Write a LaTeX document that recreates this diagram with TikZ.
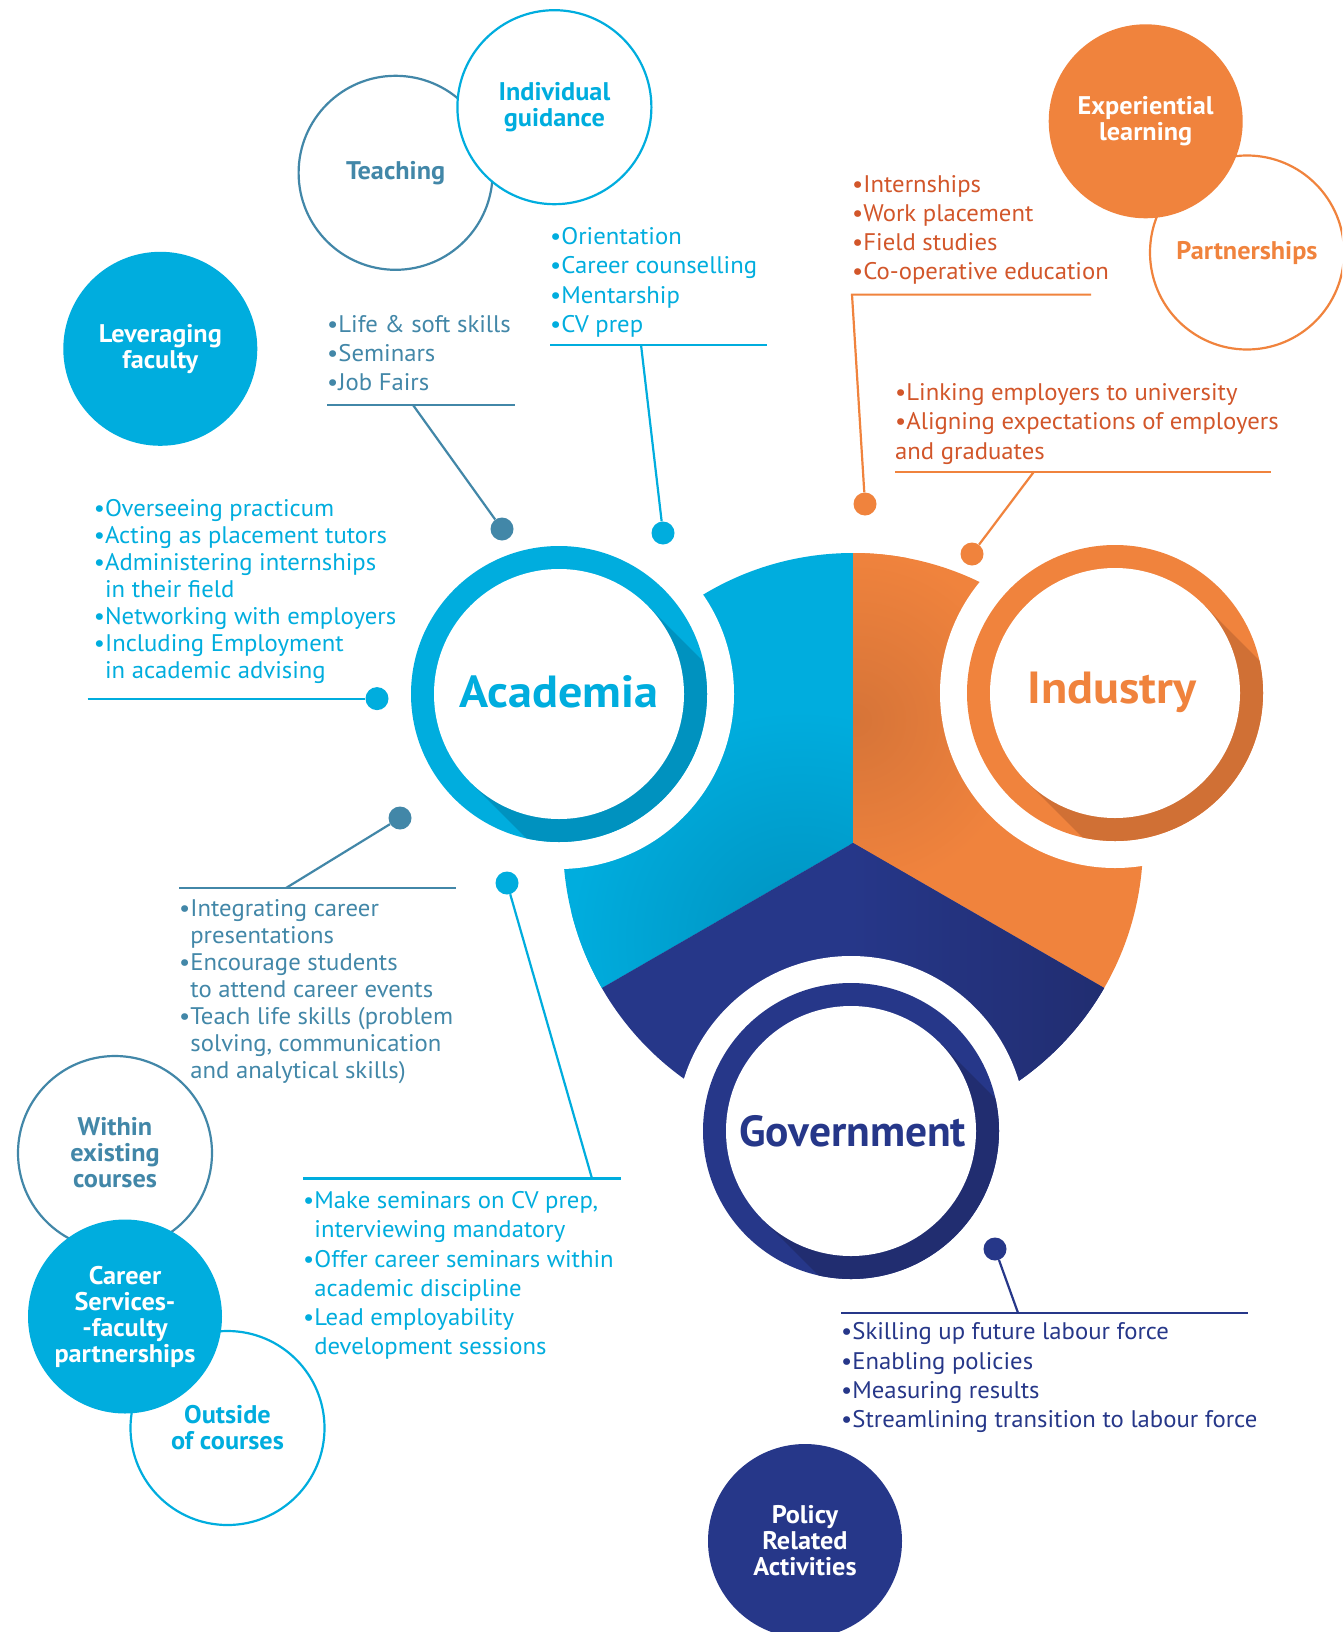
\documentclass[tikz,border=0pt]{standalone}
\usepackage{fontspec}
\setmainfont{PT Sans}
\newfontfamily\lstfont[FakeStretch=1.03]{PT Sans}
\newfontfamily\ttlfont[FakeStretch=1.03]{PT Sans}
\newfontfamily\wideboldfont[FakeStretch=1.07]{PT Sans}
\usetikzlibrary{calc}
\definecolor{cyanC}{RGB}{0,173,222}
\definecolor{cyanDark}{RGB}{0,146,191}
\definecolor{steelC}{RGB}{66,135,168}
\definecolor{orangeC}{RGB}{240,131,61}
\definecolor{orangeDark}{RGB}{214,116,56}
\definecolor{orangeDk}{RGB}{208,112,53}
\definecolor{orangeT}{RGB}{210,86,42}
\definecolor{navyC}{RGB}{38,55,137}
\definecolor{navyDark}{RGB}{33,45,112}
\begin{document}
\begin{tikzpicture}[x=1pt,y=-1pt,
  smallc/.style={circle,minimum size=194pt,inner sep=0pt,fill=white,line width=2.2pt,
     font=\ttlfont\bfseries\fontsize{25.5}{26}\selectfont,align=center},
  lst/.style={anchor=north west,inner sep=0pt,align=left,font=\lstfont\fontsize{24}{29.2}\selectfont},
  lstt/.style={anchor=north west,inner sep=0pt,align=left,font=\lstfont\fontsize{24}{27}\selectfont},
  dotn/.style={circle,minimum size=23pt,inner sep=0pt,fill=#1},
  link/.style={line width=2.2pt,draw=#1},
  big/.style={font=\wideboldfont\bfseries\fontsize{45}{50}\selectfont},
  bigg/.style={font=\bfseries\fontsize{43.5}{50}\selectfont},
  ringin/.style={circle,minimum size=250pt,inner sep=0pt,fill=white}
]
\useasboundingbox (0,0) rectangle (1342,1632);
\clip (0,0) rectangle (1342,1632);
\fill[white] (0,0) rectangle (1342,1632);

% ---------- central disk ----------
\coordinate (C) at (853,843);
\coordinate (acad) at (559,694);
\coordinate (ind) at (1115,693);
\coordinate (gov) at (851,1131);

\fill[cyanC] (C) -- (853,553) arc[start angle=-90,end angle=-210,radius=290] -- cycle;
\begin{scope}
  \clip (C) -- (853,553) arc[start angle=-90,end angle=-210,radius=290] -- cycle;
  \shade[inner color=cyanDark,outer color=cyanC] (800,940) circle[radius=230];
\end{scope}
\fill[orangeC] (C) -- (853,553) arc[start angle=-90,end angle=30,radius=290] -- cycle;
\begin{scope}
  \clip (C) -- (853,553) arc[start angle=-90,end angle=30,radius=290] -- cycle;
  \shade[inner color=orangeDark,outer color=orangeC] (855,720) circle[radius=170];
\end{scope}
\fill[navyC] (C) -- ($(C)+(-251.15,145)$) arc[start angle=150,end angle=30,radius=290] -- cycle;
\begin{scope}
  \clip (C) -- ($(C)+(-251.15,145)$) arc[start angle=150,end angle=30,radius=290] -- cycle;
  \shade[left color=navyC,right color=navyDark] (850,843) rectangle (1110,1100);
\end{scope}

% ---------- rings ----------
\foreach \c/\col/\dcol in {acad/cyanC/cyanDark,ind/orangeC/orangeDk,gov/navyC/navyDark}{
  \fill[white] (\c) circle[radius=175];
  \fill[\col] (\c) circle[radius=148];
  \begin{scope}
    \clip (\c) circle[radius=148];
    \fill[\dcol] ($(\c)+(88.4,-88.4)$) -- ($(\c)+(488.4,311.6)$) -- ($(\c)+(311.6,488.4)$) -- ($(\c)+(-88.4,88.4)$) -- cycle;
  \end{scope}
}
\node[ringin] (acadN) at (acad) {};
\node[ringin] (indN) at (ind) {};
\node[ringin] (govN) at (gov) {};
\node[big,text=cyanC] (acadT) at (559,692) {Academia};
\node[big,text=orangeC] (indT) at (1112,692) {Industry};
\node[bigg,text=navyC] (govT) at (852.6,1131.6) {Government};

% ---------- small circles ----------
\node[smallc,draw=steelC,text=steelC] (teach) at (395.6,172.8) {Teaching};
\node[smallc,draw=cyanC,text=cyanC] (guid) at (554.4,107.2) {Individual\\guidance};
\node[smallc,fill=cyanC,text=white] (lev) at (160.3,348.8) {Leveraging\\faculty};
\node[smallc,draw=orangeC,text=orangeC] (part) at (1247,252.5) {Partnerships};
\node[smallc,fill=orangeC,text=white] (exp) at (1145.7,121.3) {Experiential\\learning};
\node[smallc,draw=steelC,text=steelC] (within) at (115,1153) {Within\\existing\\courses};
\node[smallc,draw=cyanC,text=cyanC] (outside) at (227.5,1428) {Outside\\of courses};
\node[smallc,fill=cyanC,text=white] (career) at (125,1316.5) {Career\\Services-\\-faculty\\partnerships};
\node[smallc,fill=navyC,text=white] (policy) at (805,1541) {Policy\\Related\\Activities};

% ---------- lists ----------
\newcommand{\ind}{\hphantom{•}}
% a: experiential list
\node[lst,text=orangeT] (la) at (852,175) {•Internships\\•Work placement\\•Field studies\\•Co-operative education};
\coordinate (ua1) at (852,294.6); \coordinate (ua2) at (1091,294.6);
\node[dotn=orangeC] (da) at (865,504) {};
\draw[link=orangeC] (ua2) -- (ua1) -- (da);
% b: partnerships list
\node[lst,text=orangeT] (lb) at (895,383.5) {•Linking employers to university\\•Aligning expectations of employers\\and graduates};
\coordinate (ub1) at (895,471.6); \coordinate (ub2) at (1271,471.6); \coordinate (ubj) at (1034,471.6);
\node[dotn=orangeC] (db) at (972,554) {};
\draw[link=orangeC] (ub1) -- (ub2);
\draw[link=orangeC] (ubj) -- (db);
% c: guidance list
\node[lst,text=cyanC] (lc) at (550,227.4) {•Orientation\\•Career counselling\\•Mentarship\\•CV prep};
\coordinate (uc1) at (550,344.6); \coordinate (uc2) at (767,344.6); \coordinate (ucj) at (641,344.6);
\node[dotn=cyanC] (dc) at (663,533) {};
\draw[link=cyanC] (uc1) -- (uc2);
\draw[link=cyanC] (ucj) -- (dc);
% d: teaching list
\node[lst,text=steelC] (ld) at (327,314.8) {•Life \& soft skills\\•Seminars\\•Job Fairs};
\coordinate (ud1) at (327,405); \coordinate (ud2) at (515,405); \coordinate (udj) at (413,405);
\node[dotn=steelC] (dd) at (502,529) {};
\draw[link=steelC] (ud1) -- (ud2);
\draw[link=steelC] (udj) -- (dd);
% e: leveraging list
\node[lstt,text=cyanC] (le) at (93.7,499) {•Overseeing practicum\\•Acting as placement tutors\\•Administering internships\\\ind in their field\\•Networking with employers\\•Including Employment\\\ind in academic advising};
\coordinate (ue1) at (87.5,698.6);
\node[dotn=cyanC] (de) at (377,698.6) {};
\draw[link=cyanC] (ue1) -- (de);
% f: within list
\node[lstt,text=steelC] (lf) at (179,899) {•Integrating career\\\ind presentations\\•Encourage students\\\ind to attend career events\\•Teach life skills (problem\\\ind solving, communication\\\ind and analytical skills)};
\coordinate (uf1) at (179,888); \coordinate (uf2) at (456,888); \coordinate (ufj) at (286,888);
\node[dotn=steelC] (df) at (400,818) {};
\draw[link=steelC] (uf1) -- (uf2);
\draw[link=steelC] (ufj) -- (df);
% g: outside list
\node[lst,text=cyanC] (lg) at (303,1191.4) {•Make seminars on CV prep,\\\ind interviewing mandatory\\•Offer career seminars within\\\ind academic discipline\\•Lead employability\\\ind development sessions};
\coordinate (ug1) at (303,1178.5); \coordinate (ug2) at (620.5,1178.5); \coordinate (ugj) at (592,1178.5);
\node[dotn=cyanC] (dg) at (507,883) {};
\draw[link=cyanC] (ug1) -- (ug2);
\draw[link=cyanC] (ugj) -- (dg);
% h: government list
\node[lst,text=navyC] (lh) at (841,1322.6) {•Skilling up future labour force\\•Enabling policies\\•Measuring results\\•Streamlining transition to labour force};
\coordinate (uh1) at (841,1312.8); \coordinate (uh2) at (1248,1312.8); \coordinate (uhj) at (1018,1312.8);
\node[dotn=navyC] (dh) at (995,1249) {};
\draw[link=navyC] (uh1) -- (uh2);
\draw[link=navyC] (uhj) -- (dh);
\end{tikzpicture}
\end{document}
